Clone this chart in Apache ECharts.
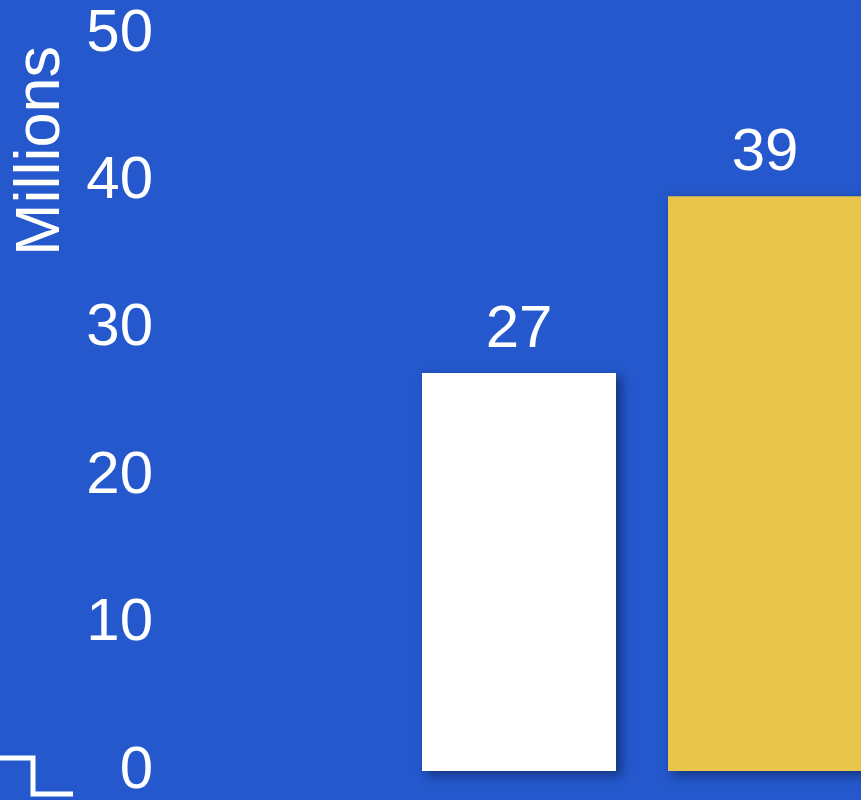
<!DOCTYPE html>
<html>
<head>
<meta charset="utf-8">
<style>
  html, body { margin: 0; padding: 0; background: #2458CC; }
  #chart { width: 861px; height: 800px; }
</style>
<script src="https://cdn.jsdelivr.net/npm/echarts@6/dist/echarts.min.js"></script>
</head>
<body>
<div id="chart"></div>
<script>
// Two columns, values in millions
const categories = ['A', 'B'];
const values = [27, 39];
const barColors = ['#FFFFFF', '#E9C64B'];
const yTicks = [0, 10, 20, 30, 40, 50];
const yTitle = 'Millions';

const FONT = '"Liberation Sans", Arial, sans-serif';

const chart = echarts.init(document.getElementById('chart'), null, { renderer: 'canvas' });

chart.setOption({
  backgroundColor: '#2458CC',
  animation: false,
  grid: { left: 396, top: 34, width: 492, height: 737, outerBoundsMode: 'none', containLabel: false },
  xAxis: {
    type: 'category',
    data: categories,
    axisLine: { show: false },
    axisTick: { show: false },
    axisLabel: { show: false },
    splitLine: { show: false }
  },
  yAxis: {
    type: 'value',
    min: yTicks[0],
    max: yTicks[yTicks.length - 1],
    interval: 10,
    axisLine: { show: false },
    axisTick: { show: false },
    splitLine: { show: false },
    axisLabel: {
      color: '#FFFFFF',
      fontFamily: FONT,
      fontSize: 60,
      margin: 243
    }
  },
  series: [{
    type: 'bar',
    barWidth: 194,
    data: values.map((v, i) => ({
      value: v,
      itemStyle: { color: barColors[i] }
    })),
    itemStyle: {
      shadowColor: 'rgba(10, 25, 70, 0.6)',
      shadowBlur: 10,
      shadowOffsetX: 5,
      shadowOffsetY: 4
    },
    label: {
      show: true,
      position: 'top',
      distance: 13,
      color: '#FFFFFF',
      fontFamily: FONT,
      fontSize: 60
    }
  }],
  graphic: [{
    // axis title, rotated to read bottom-to-top
    type: 'text',
    x: 42,
    y: 151,
    rotation: Math.PI / 2,
    style: {
      text: yTitle,
      fill: '#FFFFFF',
      font: '63px ' + FONT,
      align: 'center',
      verticalAlign: 'middle'
    }
  }, {
    type: 'polyline',
    shape: { points: [[0, 758], [33, 758], [33, 794], [73, 794]] },
    style: { stroke: '#FFFFFF', lineWidth: 5, fill: null, lineJoin: 'miter' }
  }]
});
</script>
</body>
</html>
